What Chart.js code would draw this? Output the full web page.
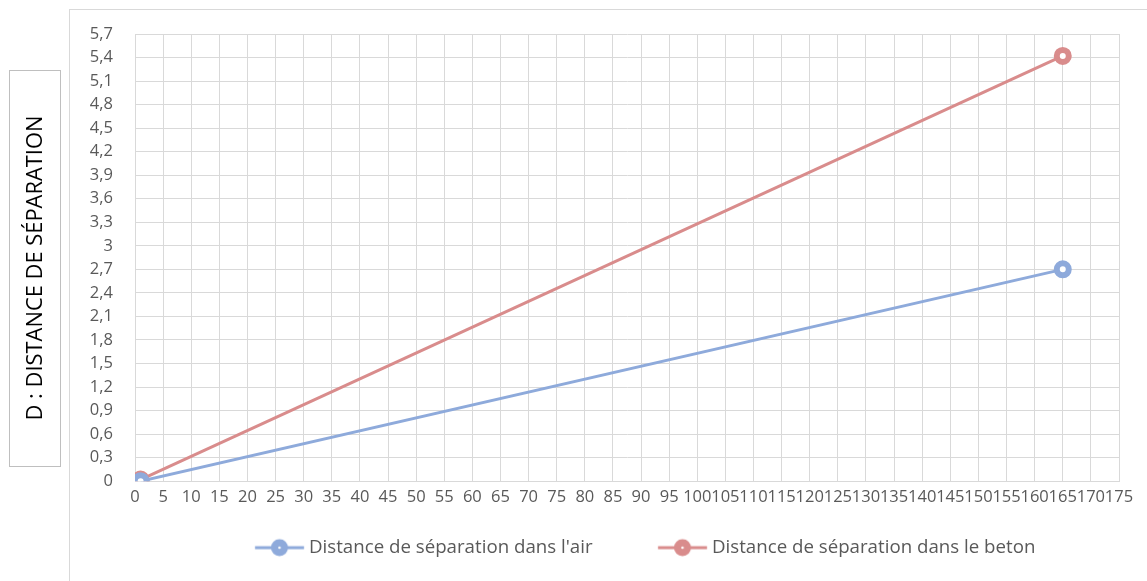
<!DOCTYPE html>
<html>
<head>
<meta charset="utf-8">
<script src="https://cdn.jsdelivr.net/npm/chart.js@4.4.1/dist/chart.umd.min.js"></script>
<style>
  html, body { margin: 0; padding: 0; background: #ffffff; }
  #wrap { width: 1147px; height: 581px; }
</style>
</head>
<body>
<div id="wrap"><canvas id="c" width="1147" height="581"></canvas></div>
<script>
// ---- data ----
const xValues = [1, 165];
const airValues = [0, 2.7];
const betonValues = [0.02, 5.42];
const seriesNames = ["Distance de séparation dans l'air", "Distance de séparation dans le beton"];
const yTitle = "D : DISTANCE DE SÉPARATION";
const yTickLabels = ["0","0,3","0,6","0,9","1,2","1,5","1,8","2,1","2,4","2,7","3","3,3","3,6","3,9","4,2","4,5","4,8","5,1","5,4","5,7"];
const xMin = 0, xMax = 175, xStep = 5;
const yMin = 0, yMax = 5.7, yStep = 0.3;

// ---- style ----
const FONT = "Open Sans";
const TICK_FS = 16.5;
const TXT = "#595959";
const GRID = "#d9d9d9";
const BLUE = "#8eaadb";
const RED = "#d98c8c";
const plotLeft = 135, plotRight = 1119;

const mctx = document.createElement('canvas').getContext('2d');
function fitSize(text, target) {
  mctx.font = "100px '" + FONT + "'";
  return 100 * target / mctx.measureText(text).width;
}
const FS = Math.round(fitSize(seriesNames[0], 284) * 10) / 10;
const TITLE_FS = Math.round(fitSize(yTitle, 305) * 10) / 10;

// legend placement (legend spans the chart area: plotLeft..plotRight)
const text1X = 309, text2X = 712;
mctx.font = FS + "px '" + FONT + "'";
const t1 = mctx.measureText(seriesNames[0]).width;
const t2 = mctx.measureText(seriesNames[1]).width;
const K = (text2X - text1X) - FS / 2 - t1;
const B = Math.max(4, 2 * text1X - plotLeft - plotRight + K + t1 + t2);
const legPad = Math.max(0, K - B);
const lineEndOff = B / 2 + FS / 2 - 5;   // from image center
const lineStartOff = lineEndOff - 49;
const imgW = Math.ceil(2 * Math.max(Math.abs(lineEndOff), Math.abs(lineStartOff)) + 24);

function legendImg(color) {
  const c = document.createElement('canvas');
  c.width = imgW; c.height = 20;
  const g = c.getContext('2d');
  const cx = imgW / 2;
  g.strokeStyle = color; g.lineWidth = 3;
  g.beginPath(); g.moveTo(cx + lineStartOff, 10); g.lineTo(cx + lineEndOff, 10); g.stroke();
  const mx = cx + (lineStartOff + lineEndOff) / 2;
  g.fillStyle = color;
  g.beginPath(); g.arc(mx, 10, 8.5, 0, Math.PI * 2); g.fill();
  g.fillStyle = "#ffffff";
  g.beginPath(); g.arc(mx, 10, 1.3, 0, Math.PI * 2); g.fill();
  return c;
}
const legendImgs = [legendImg(BLUE), legendImg(RED)];

const decor = {
  id: 'decor',
  beforeDraw(chart) {
    const ctx = chart.ctx;
    ctx.save();
    ctx.strokeStyle = GRID; ctx.lineWidth = 1;
    ctx.strokeRect(69.5, 9.5, 2000, 2000);
    ctx.strokeStyle = "#bfbfbf";
    ctx.strokeRect(9.5, 70.5, 51, 396);
    ctx.translate(36, 268);
    ctx.rotate(-Math.PI / 2);
    ctx.fillStyle = "#000000";
    ctx.font = TITLE_FS + "px '" + FONT + "'";
    ctx.textAlign = "center"; ctx.textBaseline = "middle";
    ctx.fillText(yTitle, 0, 0);
    ctx.restore();
  }
};

function pts(xs, ys) { return xs.map((x, i) => ({ x: x, y: ys[i] })); }

new Chart(document.getElementById('c'), {
  type: 'line',
  data: {
    datasets: [
      { label: seriesNames[0], data: pts(xValues, airValues), borderColor: BLUE, backgroundColor: BLUE,
        borderWidth: 3, pointRadius: 6, pointBorderWidth: 6, pointBackgroundColor: "#ffffff",
        pointBorderColor: BLUE, tension: 0 },
      { label: seriesNames[1], data: pts(xValues, betonValues), borderColor: RED, backgroundColor: RED,
        borderWidth: 3, pointRadius: 6, pointBorderWidth: 6, pointBackgroundColor: "#ffffff",
        pointBorderColor: RED, tension: 0 }
    ]
  },
  options: {
    responsive: false,
    animation: false,
    devicePixelRatio: 1,
    layout: { padding: { left: 0, right: 1147 - plotRight, top: 34, bottom: 14 } },
    plugins: {
      tooltip: { enabled: false },
      legend: {
        position: 'bottom',
        fullSize: false,
        labels: {
          usePointStyle: true,
          pointStyleWidth: B,
          padding: legPad,
          color: TXT,
          font: { family: FONT, size: FS },
          generateLabels(chart) {
            const items = Chart.defaults.plugins.legend.labels.generateLabels(chart);
            items.forEach((it, i) => { it.pointStyle = legendImgs[i]; });
            return items;
          }
        }
      }
    },
    scales: {
      x: {
        type: 'linear', min: xMin, max: xMax,
        afterFit(scale) { scale.height = 28; },
        ticks: { stepSize: xStep, autoSkip: false, maxRotation: 0, minRotation: 0, padding: 6,
                 color: TXT, font: { family: FONT, size: TICK_FS } },
        grid: { color: GRID, drawTicks: false },
        border: { color: GRID }
      },
      y: {
        type: 'linear', min: yMin, max: yMax,
        afterFit(scale) { scale.width = plotLeft; },
        ticks: { stepSize: yStep, autoSkip: false, padding: 22, color: TXT,
                 font: { family: FONT, size: TICK_FS },
                 callback(v) { const k = Math.round(v / yStep); return yTickLabels[k] !== undefined ? yTickLabels[k] : ''; } },
        grid: { color: GRID, drawTicks: false },
        border: { color: GRID }
      }
    }
  },
  plugins: [decor]
});
</script>
</body>
</html>
